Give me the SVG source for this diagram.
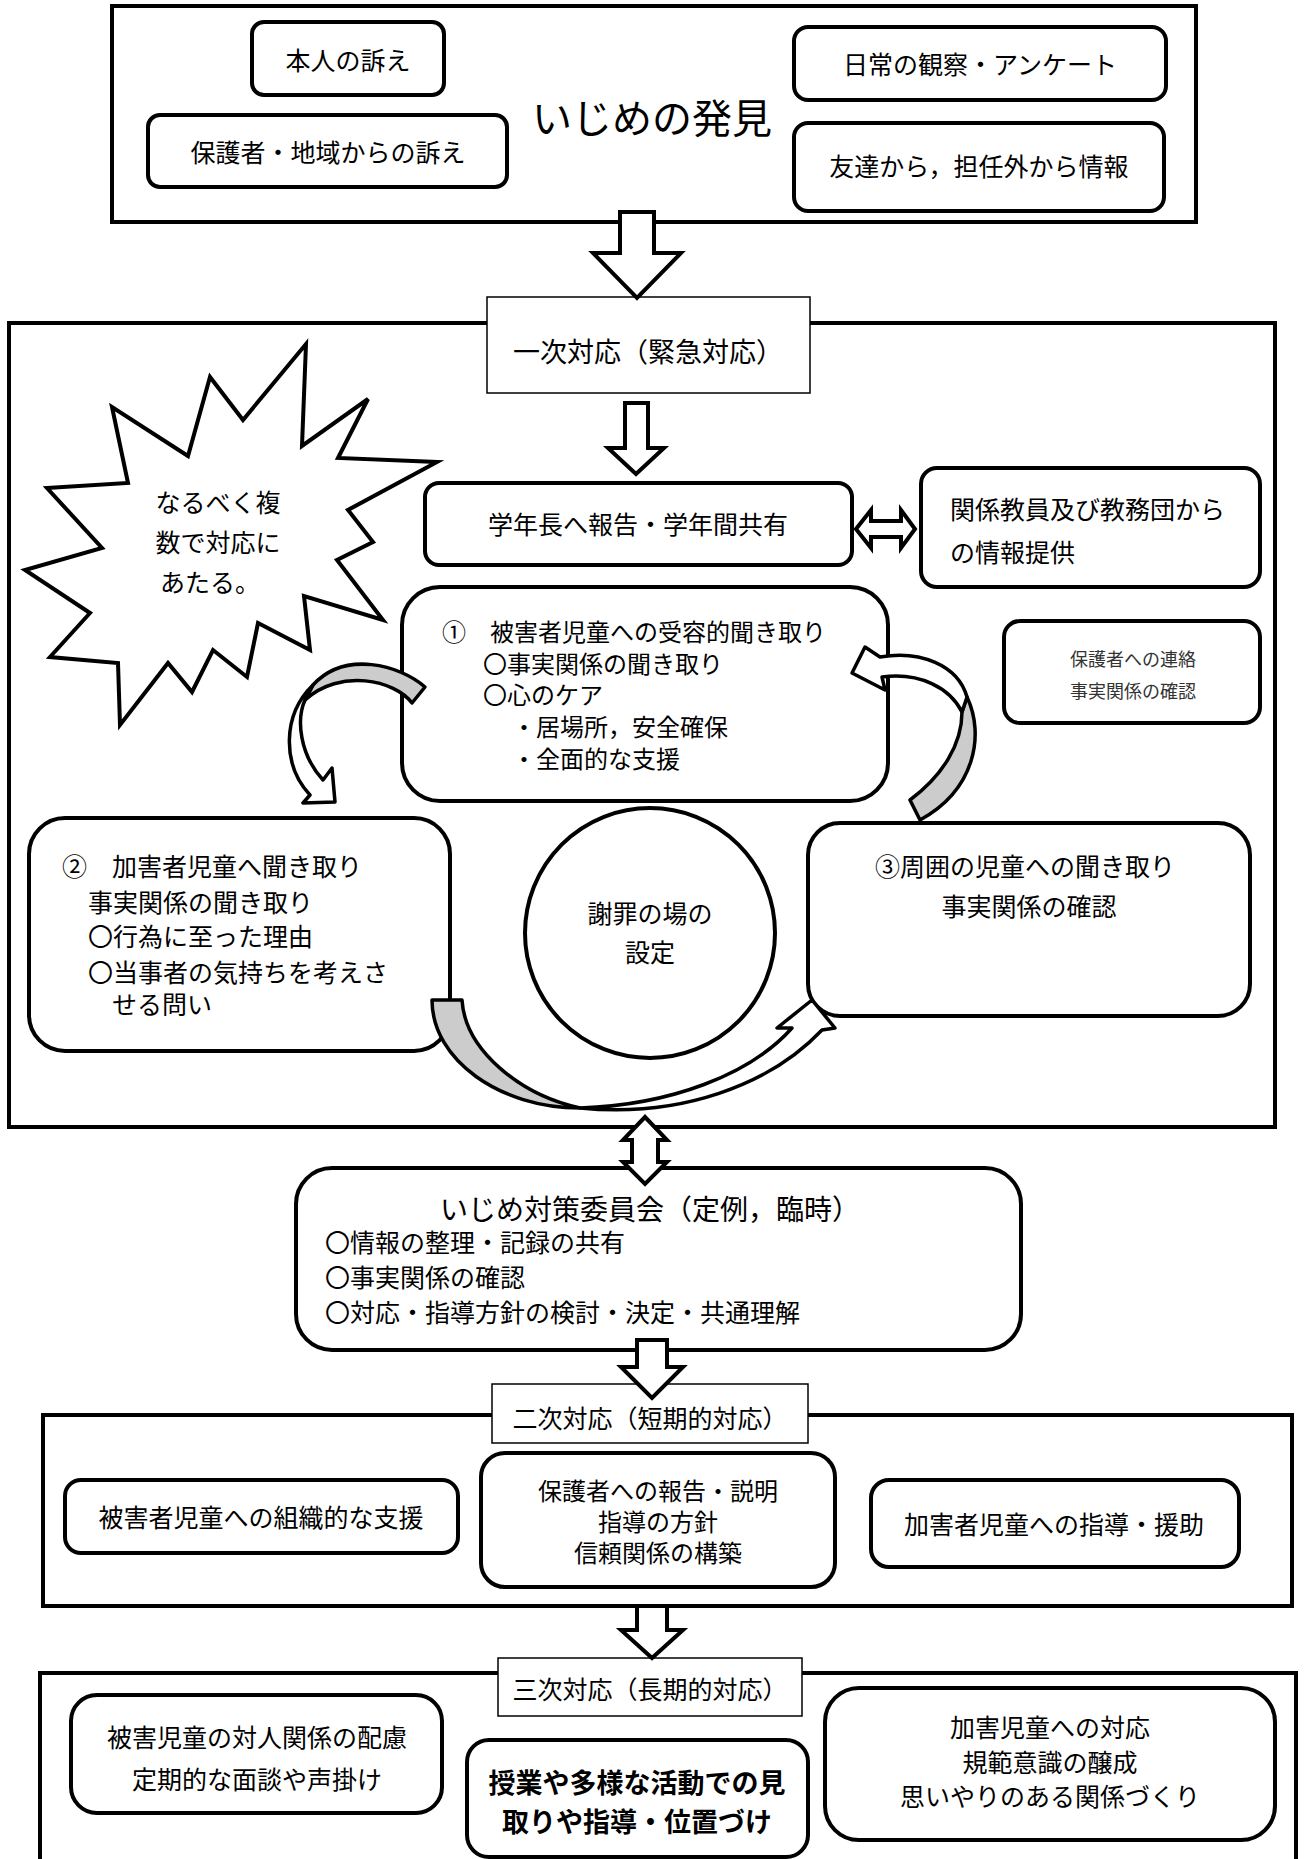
<svg xmlns="http://www.w3.org/2000/svg" width="1305" height="1859" viewBox="0 0 1305 1859">
<style>
.t{font-family:"Noto Sans CJK JP","Noto Sans",sans-serif;font-size:25px;fill:#000}
.s{font-size:24px}
.c{text-anchor:middle}
.box{fill:#fff;stroke:#000;stroke-width:4}
.sec{fill:none;stroke:#000;stroke-width:4}
.lbl{fill:#fff;stroke:#000;stroke-width:1.5}
.ar{fill:#fff;stroke:#000;stroke-width:4;stroke-linejoin:miter}
.cv{stroke:#000;stroke-width:3.5;stroke-linejoin:round}
</style>
<rect width="1305" height="1859" fill="#fff"/>

<!-- Section outlines -->
<g id="top-section">
<rect class="sec" x="112" y="6" width="1084" height="216"/>
<text class="t c" x="652" y="133" style="font-size:40px">いじめの発見</text>
</g>
<g id="section1">
<rect class="sec" x="9" y="323" width="1266" height="804"/>
</g>
<g id="section2">
<rect class="sec" x="43" y="1415" width="1249" height="191"/>
</g>
<g id="section3">
<rect class="sec" x="40" y="1673" width="1256" height="200"/>
</g>

<!-- Top nodes -->
<g id="n-honnin"><rect class="box" x="252" y="22" width="192" height="73" rx="12"/><text class="t c" x="348" y="70">本人の訴え</text></g>
<g id="n-hogosha"><rect class="box" x="148" y="115" width="359" height="72" rx="12"/><text class="t c" x="328" y="162">保護者・地域からの訴え</text></g>
<g id="n-nichijo"><rect class="box" x="794" y="27" width="372" height="73" rx="14"/><text class="t c" x="980" y="74">日常の観察・アンケート</text></g>
<g id="n-tomodachi"><rect class="box" x="794" y="123" width="370" height="88" rx="14"/><text class="t c" x="979" y="176">友達から，担任外から情報</text></g>

<!-- Section 1 nodes -->
<g id="n-ichiji"><rect class="lbl" x="487" y="297" width="323" height="96"/><text class="t c" x="648" y="362" style="font-size:27px">一次対応（緊急対応）</text></g>
<g id="n-burst">
<polygon fill="#fff" stroke="#000" stroke-width="4" stroke-linejoin="miter" points="306,344 302,446 368,399 338,458 437,462 348,510 373,542 337,560 383,620 304,596 310,650 258,623 247,677 213,650 192,692 168,663 120,725 118,663 50,657 90,613 25,570 102,548 47,488 128,483 112,407 188,456 210,377 243,420"/>
<text class="t c" x="218" y="512">なるべく複</text>
<text class="t c" x="218" y="552">数で対応に</text>
<text class="t c" x="210" y="592">あたる。</text>
</g>
<g id="n-gakunen"><rect class="box" x="425" y="483" width="427" height="82" rx="14"/><text class="t c" x="638" y="534">学年長へ報告・学年間共有</text></g>
<g id="n-kankei"><rect class="box" x="921" y="468" width="339" height="119" rx="16"/><text class="t" x="950" y="519">関係教員及び教務団から</text><text class="t" x="950" y="562">の情報提供</text></g>
<g id="n-renraku"><rect class="box" x="1004" y="621" width="256" height="102" rx="16"/><text class="t c" x="1133" y="666" style="font-size:18px;fill:#333">保護者への連絡</text><text class="t c" x="1133" y="698" style="font-size:18px;fill:#333">事実関係の確認</text></g>
<g id="n-1"><rect class="box" x="402" y="587" width="486" height="214" rx="38"/>
<text class="t s" x="442" y="641">①　被害者児童への受容的聞き取り</text>
<text class="t s" x="483" y="673">〇事実関係の聞き取り</text>
<text class="t s" x="483" y="704">〇心のケア</text>
<text class="t s" x="512" y="736">・居場所，安全確保</text>
<text class="t s" x="512" y="768">・全面的な支援</text>
</g>
<g id="n-2"><rect class="box" x="29" y="818" width="421" height="233" rx="36"/>
<text class="t" x="62" y="876">②　加害者児童へ聞き取り</text>
<text class="t" x="88" y="912">事実関係の聞き取り</text>
<text class="t" x="88" y="946">〇行為に至った理由</text>
<text class="t" x="88" y="982">〇当事者の気持ちを考えさ</text>
<text class="t" x="112" y="1014">せる問い</text>
</g>
<g id="n-shazai"><circle fill="#fff" stroke="#000" stroke-width="4" cx="650" cy="933" r="125"/><text class="t c" x="650" y="923">謝罪の場の</text><text class="t c" x="650" y="962">設定</text></g>
<g id="n-3"><rect class="box" x="808" y="823" width="442" height="193" rx="32"/>
<text class="t c" x="1025" y="876">③周囲の児童への聞き取り</text>
<text class="t c" x="1029" y="916">事実関係の確認</text>
</g>

<!-- Committee -->
<g id="n-iinkai"><rect class="box" x="296" y="1168" width="725" height="182" rx="36"/>
<text class="t c" x="650" y="1220" style="font-size:28px">いじめ対策委員会（定例，臨時）</text>
<text class="t" x="325" y="1252">〇情報の整理・記録の共有</text>
<text class="t" x="325" y="1287">〇事実関係の確認</text>
<text class="t" x="325" y="1322">〇対応・指導方針の検討・決定・共通理解</text>
</g>

<!-- Section 2 nodes -->
<g id="n-niji"><rect class="lbl" x="492" y="1384" width="316" height="59"/><text class="t c" x="650" y="1428">二次対応（短期的対応）</text></g>
<g id="n-soshiki"><rect class="box" x="65" y="1480" width="393" height="73" rx="16"/><text class="t c" x="261" y="1527">被害者児童への組織的な支援</text></g>
<g id="n-hokoku"><rect class="box" x="481" y="1453" width="354" height="134" rx="24"/>
<text class="t s c" x="658" y="1500">保護者への報告・説明</text>
<text class="t s c" x="658" y="1531">指導の方針</text>
<text class="t s c" x="658" y="1562">信頼関係の構築</text>
</g>
<g id="n-shido"><rect class="box" x="871" y="1480" width="368" height="87" rx="18"/><text class="t c" x="1054" y="1534">加害者児童への指導・援助</text></g>

<!-- Section 3 nodes -->
<g id="n-sanji"><rect class="lbl" x="498" y="1658" width="304" height="58"/><text class="t c" x="650" y="1699">三次対応（長期的対応）</text></g>
<g id="n-hairyo"><rect class="box" x="71" y="1695" width="371" height="118" rx="26"/>
<text class="t c" x="257" y="1747">被害児童の対人関係の配慮</text>
<text class="t c" x="257" y="1789">定期的な面談や声掛け</text>
</g>
<g id="n-jugyo"><rect class="box" x="467" y="1740" width="341" height="117" rx="22"/>
<text class="t c" x="637" y="1793" style="font-size:27px;font-weight:bold">授業や多様な活動での見</text>
<text class="t c" x="637" y="1832" style="font-size:27px;font-weight:bold">取りや指導・位置づけ</text>
</g>
<g id="n-taio"><rect class="box" x="825" y="1688" width="450" height="152" rx="34"/>
<text class="t c" x="1050" y="1737">加害児童への対応</text>
<text class="t c" x="1050" y="1772">規範意識の醸成</text>
<text class="t c" x="1050" y="1806">思いやりのある関係づくり</text>
</g>

<!-- Connectors -->
<g id="connectors">
<polygon class="ar" points="620,212 654,212 654,253 681,253 637,298 593,253 620,253"/>
<polygon class="ar" points="625,403 648,403 648,448 664,448 636,474 608,448 625,448"/>
<polygon class="ar" points="856,529 871,510 871,521 901,521 901,510 915,529 901,548 901,537 871,537 871,548"/>
<polygon class="ar" points="645,1117 667,1140 658,1140 658,1162 667,1162 645,1184 623,1162 632,1162 632,1140 623,1140"/>
<polygon class="ar" points="637,1340 667,1340 667,1367 683,1367 652,1398 621,1367 637,1367"/>
<polygon class="ar" points="637,1606 667,1606 667,1630 683,1630 652,1658 621,1630 637,1630"/>
<!-- curved arrow 1 -> 2 -->
<path class="cv" fill="#ccc" d="M425,687 C400,665 345,650 313,685 L305,700 C340,668 395,680 412,703 Z"/>
<path class="cv" fill="#fff" d="M313,685 C282,715 282,765 310,795 L303,803 L335,802 L332,768 L323,780 C300,755 296,720 305,700 Z"/>
<!-- curved arrow 3 -> 1 -->
<path class="cv" fill="#ccc" d="M910,800 C942,776 962,745 962,712 L967,697 C985,735 975,790 920,820 Z"/>
<path class="cv" fill="#fff" d="M967,697 C958,665 920,650 880,657 L865,647 L852,673 L885,690 L882,677 C920,672 950,688 962,712 Z"/>
<!-- curved arrow 2 -> 3 -->
<path class="cv" fill="#ccc" d="M432,1000 L462,1000 C465,1050 520,1095 580,1108 C500,1108 432,1060 432,1000 Z"/>
<path class="cv" fill="#fff" d="M580,1108 C680,1118 770,1085 822,1030 L835,1028 L812,1000 L777,1028 L792,1028 C750,1075 670,1105 580,1108 Z"/>
</g>
</svg>
